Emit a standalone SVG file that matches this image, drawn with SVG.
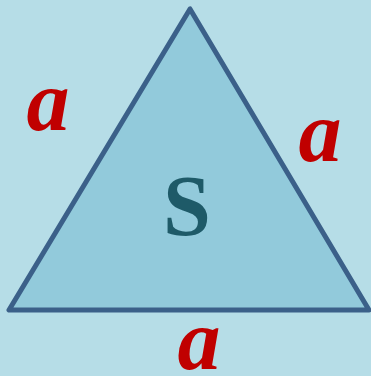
<svg xmlns="http://www.w3.org/2000/svg" width="371" height="376" viewBox="0 0 371 376">
<style>
.lbl{font-family:"Liberation Serif","Times New Roman",serif;font-weight:bold;font-style:italic;font-size:86px;fill:#c00000;text-anchor:middle}
.s{font-family:"Liberation Serif","Times New Roman",serif;font-weight:bold;font-size:86px;fill:#1e5a68;text-anchor:middle}
</style>
<rect width="371" height="376" fill="#b6dde7"/>
<g id="triangle">
<polygon points="190,9 9,310 369,310" fill="#92cadb" stroke="#3b6089" stroke-width="5" stroke-linejoin="round"/>
<text class="s" x="187" y="235">S</text>
</g>
<g id="label-left"><text class="lbl" x="48" y="130">a</text></g>
<g id="label-right"><text class="lbl" x="320" y="161">a</text></g>
<g id="label-bottom"><text class="lbl" x="199" y="369">a</text></g>
</svg>
